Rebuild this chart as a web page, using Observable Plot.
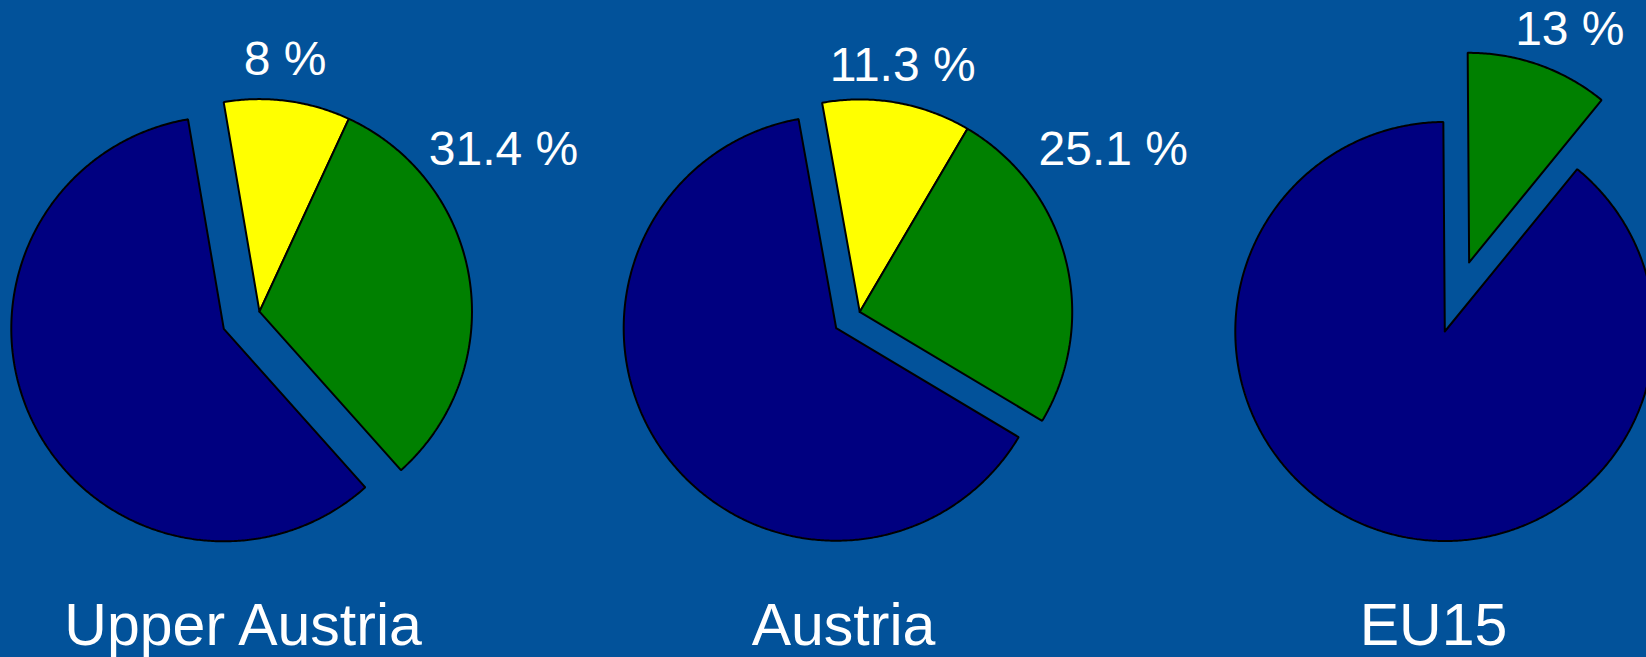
<!DOCTYPE html>
<html>
<head>
<meta charset="utf-8">
<script src="https://cdn.jsdelivr.net/npm/d3@7"></script>
<script src="https://cdn.jsdelivr.net/npm/@observablehq/plot@0.6"></script>
<style>
  html, body { margin: 0; padding: 0; background: #02529A; }
  #chart svg { display: block; }
</style>
</head>
<body>
<div id="chart"></div>
<script>
// ---- data ----
const regions = ["Upper Austria", "Austria", "EU15"];
const yellowShare = [9.6, 11.3, 0];      // slice share in % as drawn
const greenShare  = [31.5, 25.1, 11.0];
const navyShare   = [58.9, 63.6, 89.0];
const yellowLabel = ["8 %", "11.3 %", null];
const greenLabel  = ["31.4 %", "25.1 %", "13 %"];

// ---- layout ----
const W = 1646, H = 657;
const bg = "#02529A";
const colors = {yellow: "#FFFF00", green: "#008000", navy: "#000080"};
const centerX = [223.3, 835.7, 1444.3];
const centerY = [328.3, 327.7, 331.0];
const radius  = [212.5, 212.5, 209.5];
const startAngle = [-9.7, -10.2, -0.4];   // degrees clockwise from 12 o'clock
const explodeDist = [39.6, 28.6, 73.3];   // yellow+green pulled out together
const yellowLabelOffset = [[25.7, -251.7], [43, -246.4], null];
const greenLabelOffset  = [[244.1, -161.6], [253.5, -162.6], [100.7, -233.1]];
const titleDx = [19.3, 7.3, -11.3];
const titleY = 626;

const rad = d => d * Math.PI / 180;
const slices = [];
const labels = [];
const titles = [];

regions.forEach((name, i) => {
  const cx = centerX[i], cy = centerY[i], r = radius[i];
  const total = yellowShare[i] + greenShare[i] + navyShare[i];
  const a0 = startAngle[i];
  const aY = a0 + 360 * yellowShare[i] / total;
  const aG = aY + 360 * greenShare[i] / total;
  const aN = a0 + 360;
  const mid = (a0 + aG) / 2;
  const ox = explodeDist[i] * Math.sin(rad(mid));
  const oy = -explodeDist[i] * Math.cos(rad(mid));
  const ecx = cx + ox, ecy = cy + oy;

  function addSlice(kind, s, e, px, py) {
    if (e - s <= 0) return;
    const id = name + "-" + kind;
    slices.push({id, kind, x: px, y: py});
    const n = Math.max(2, Math.ceil((e - s) / 0.5));
    for (let k = 0; k <= n; k++) {
      const a = rad(s + (e - s) * k / n);
      slices.push({id, kind, x: px + r * Math.sin(a), y: py - r * Math.cos(a)});
    }
    slices.push({id, kind, x: px, y: py});
  }
  addSlice("yellow", a0, aY, ecx, ecy);
  addSlice("green", aY, aG, ecx, ecy);
  addSlice("navy", aG, aN, cx, cy);

  if (yellowLabel[i]) labels.push({text: yellowLabel[i], x: ecx + yellowLabelOffset[i][0], y: ecy + yellowLabelOffset[i][1]});
  if (greenLabel[i]) labels.push({text: greenLabel[i], x: ecx + greenLabelOffset[i][0], y: ecy + greenLabelOffset[i][1]});
  titles.push({text: name, x: cx + titleDx[i], y: titleY});
});

const sliceMark = kind => Plot.line(slices.filter(d => d.kind === kind), {
  x: "x", y: "y", z: "id",
  fill: colors[kind], stroke: "#000", strokeWidth: 2,
  strokeLinejoin: "miter", curve: "linear"
});

const chart = Plot.plot({
  width: W, height: H,
  marginTop: 0, marginRight: 0, marginBottom: 0, marginLeft: 0,
  x: {domain: [0, W], range: [0, W], axis: null},
  y: {domain: [0, H], range: [0, H], axis: null},
  style: {background: bg, overflow: "visible"},
  marks: [
    sliceMark("navy"),
    sliceMark("yellow"),
    sliceMark("green"),
    Plot.text(labels, {x: "x", y: "y", text: "text", fill: "white",
      fontSize: 48, fontFamily: "Liberation Sans, Arial, sans-serif",
      textAnchor: "middle", lineAnchor: "middle"}),
    Plot.text(titles, {x: "x", y: "y", text: "text", fill: "white",
      fontSize: 59, fontFamily: "Liberation Sans, Arial, sans-serif",
      textAnchor: "middle", lineAnchor: "middle"})
  ]
});
document.getElementById("chart").appendChild(chart);
</script>
</body>
</html>
